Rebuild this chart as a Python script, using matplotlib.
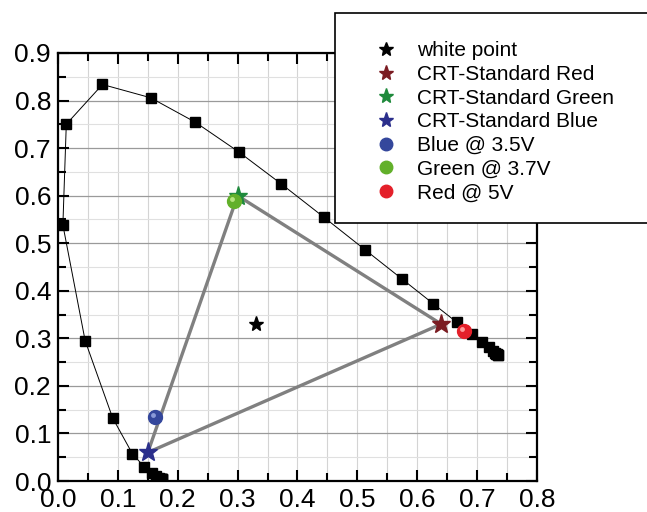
import matplotlib.pyplot as plt
from matplotlib.lines import Line2D
from matplotlib.patches import Rectangle
from matplotlib.ticker import MultipleLocator
import matplotlib.transforms as mtransforms

plt.rcParams['font.family'] = ['Liberation Sans', 'DejaVu Sans']

# CIE 1931 spectral locus, 380-700 nm every 10 nm
locus_x = [0.1741, 0.1738, 0.1733, 0.1726, 0.1714, 0.1689, 0.1644, 0.1566, 0.1440,
           0.1241, 0.0913, 0.0454, 0.0082, 0.0139, 0.0743, 0.1547, 0.2296, 0.3016,
           0.3731, 0.4441, 0.5125, 0.5752, 0.6270, 0.6658, 0.6915, 0.7079, 0.7190,
           0.7260, 0.7300, 0.7320, 0.7334, 0.7344, 0.7347]
locus_y = [0.0050, 0.0049, 0.0048, 0.0048, 0.0051, 0.0069, 0.0109, 0.0177, 0.0297,
           0.0578, 0.1327, 0.2950, 0.5384, 0.7502, 0.8338, 0.8059, 0.7543, 0.6923,
           0.6245, 0.5547, 0.4866, 0.4242, 0.3725, 0.3340, 0.3083, 0.2920, 0.2809,
           0.2740, 0.2700, 0.2680, 0.2666, 0.2656, 0.2653]

white_point = (0.33, 0.33)
crt_names = ['CRT-Standard Red', 'CRT-Standard Green', 'CRT-Standard Blue']
crt_x = [0.64, 0.30, 0.15]
crt_y = [0.33, 0.60, 0.06]
crt_colors = ['#7b1c22', '#1f8a3c', '#2b2f8c']

dev_names = ['Blue @ 3.5V', 'Green @ 3.7V', 'Red @ 5V']
dev_x = [0.162, 0.294, 0.678]
dev_y = [0.135, 0.589, 0.316]
dev_colors = ['#34479c', '#62b02a', '#e4202a']
dev_light = ['#8a9ad8', '#b6e47e', '#ff9a9a']

fig = plt.figure(figsize=(6.47, 5.12), dpi=100)
ax = fig.add_axes([0.0896, 0.0605, 0.7404, 0.836])

ax.set_xlim(0, 0.8)
ax.set_ylim(0, 0.9)
ax.xaxis.set_major_locator(MultipleLocator(0.1))
ax.xaxis.set_minor_locator(MultipleLocator(0.05))
ax.yaxis.set_major_locator(MultipleLocator(0.1))
ax.yaxis.set_minor_locator(MultipleLocator(0.05))
ax.set_axisbelow(True)
ax.grid(axis='x', which='both', color='#d4d4d4', lw=0.8)
ax.grid(axis='y', which='minor', color='#e0e0e0', lw=0.8)
ax.grid(axis='y', which='major', color='#9a9a9a', lw=0.9)
ax.tick_params(which='both', direction='in', top=True, right=True, width=1.5)
ax.tick_params(which='major', length=8, labelsize=19, pad=5)
ax.tick_params(which='minor', length=6)
for s in ax.spines.values():
    s.set_linewidth(1.6)

ax.plot(locus_x, locus_y, color='black', lw=0.7, marker='s', ms=6.5, zorder=3)

# gamut triangle
ax.plot(crt_x + crt_x[:1], crt_y + crt_y[:1], color='#808080', lw=2.4, zorder=3)

ax.plot(*white_point, marker='*', color='black', ms=11, ls='none', zorder=4)
for x, y, c in zip(crt_x, crt_y, crt_colors):
    ax.plot(x, y, marker='*', color=c, ms=14, ls='none', zorder=4)

hl = mtransforms.offset_copy(ax.transData, fig=fig, x=-1.5, y=1.5, units='points')
for x, y, c, l in zip(dev_x, dev_y, dev_colors, dev_light):
    ax.plot(x, y, marker='o', color=c, ms=10, ls='none', zorder=5)
    ax.plot(x, y, marker='o', color=l, ms=3.5, ls='none', zorder=6,
            transform=hl, markeredgewidth=0)

# legend box
box = Rectangle((0.518, 0.564), 0.5, 0.411, transform=fig.transFigure,
                facecolor='white', edgecolor='black', lw=1.2, zorder=2)
fig.patches.append(box)

handles = [Line2D([], [], marker='*', color='black', ls='none', ms=10)]
handles += [Line2D([], [], marker='*', color=c, ls='none', ms=11) for c in crt_colors]
handles += [Line2D([], [], marker='o', color=c, ls='none', ms=9) for c in dev_colors]
labels = ['white point'] + crt_names + dev_names
leg = fig.legend(handles, labels, loc='upper left', bbox_to_anchor=(0.564, 0.94),
                 frameon=False, fontsize=15, handlelength=1.0, handletextpad=1.0,
                 labelspacing=0.225, borderpad=0)
leg.set_zorder(3)

fig.savefig('out.png', dpi=100)
